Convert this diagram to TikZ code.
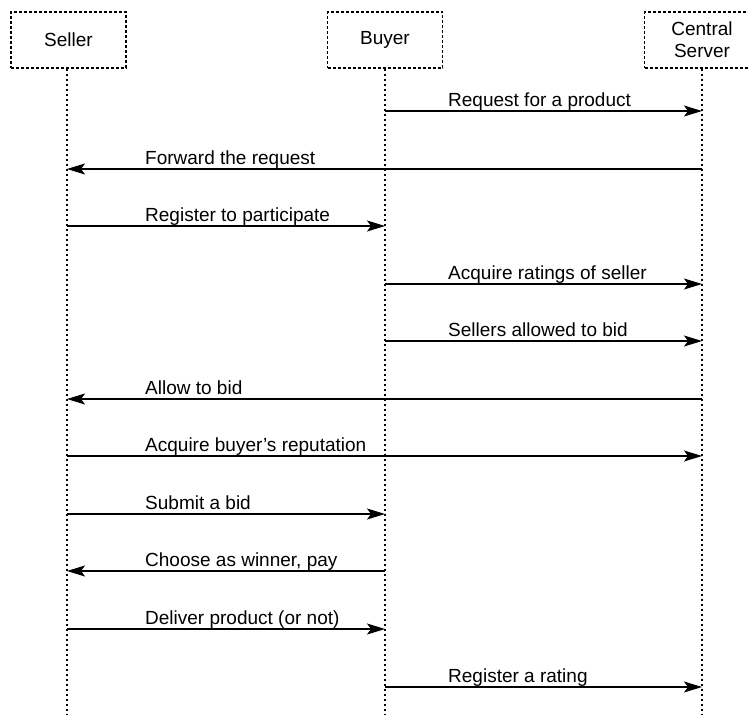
\documentclass[tikz,border=0pt]{standalone}
\usepackage{fontspec}
\setmainfont{Liberation Sans}
\usetikzlibrary{arrows.meta}
\begin{document}
\begin{tikzpicture}[x=1pt,y=1pt,
  font=\fontsize{19}{23}\selectfont,
  actor/.style={draw, line width=1.1pt, dash pattern=on 3pt off 2pt, minimum width=115pt, minimum height=56pt, align=center, inner sep=0pt},
  lifeline/.style={line width=1.1pt, dash pattern=on 2.5pt off 2.5pt},
  msg/.style={line width=1.3pt, -{Stealth[length=18pt,width=11pt,inset=4pt]}},
  lbl/.style={anchor=base west, inner sep=0pt}]
\useasboundingbox (0,0) rectangle (748,-715);
\clip (0,0) rectangle (748,-715);
\fill[white] (0,0) rectangle (748,-715);
\node[actor] (seller) at (68.5,-40) {Seller};
\node[actor] (buyer) at (385,-40) {Buyer};
\node[actor] (server) at (702,-40) {Central\\[-1pt]Server};
\coordinate (sellerEnd) at (67,-715);
\coordinate (buyerEnd) at (385,-715);
\coordinate (serverEnd) at (702,-715);
\draw[lifeline] (seller.south -| sellerEnd) -- (sellerEnd);
\draw[lifeline] (buyer.south) -- (buyerEnd);
\draw[lifeline] (server.south) -- (serverEnd);
% message coordinates
\foreach \i/\y in {1/111,2/169,3/226,4/284,5/341,6/399,7/456,8/514,9/571,10/629,11/687}{
  \coordinate (S\i) at (67,-\y);
  \coordinate (B\i) at (385,-\y);
  \coordinate (C\i) at (702,-\y);
}
\draw[msg] (B1) -- (C1);
\node[lbl] at (448,-106) {Request for a product};
\draw[msg] (C2) -- (S2);
\node[lbl] at (145,-164) {Forward the request};
\draw[msg] (S3) -- (B3);
\node[lbl] at (145,-221) {Register to participate};
\draw[msg] (B4) -- (C4);
\node[lbl] at (448,-279) {Acquire ratings of seller};
\draw[msg] (B5) -- (C5);
\node[lbl] at (448,-336) {Sellers allowed to bid};
\draw[msg] (C6) -- (S6);
\node[lbl] at (145,-394) {Allow to bid};
\draw[msg] (S7) -- (C7);
\node[lbl] at (145,-451) {Acquire buyer’s reputation};
\draw[msg] (S8) -- (B8);
\node[lbl] at (145,-509) {Submit a bid};
\draw[msg] (B9) -- (S9);
\node[lbl] at (145,-566) {Choose as winner, pay};
\draw[msg] (S10) -- (B10);
\node[lbl] at (145,-624) {Deliver product (or not)};
\draw[msg] (B11) -- (C11);
\node[lbl] at (448,-682) {Register a rating};
\end{tikzpicture}
\end{document}
